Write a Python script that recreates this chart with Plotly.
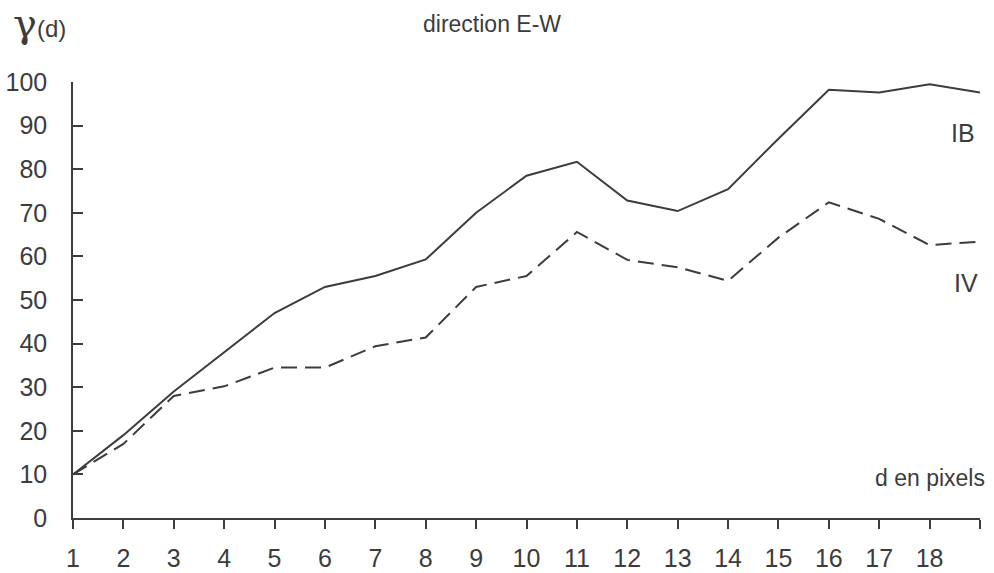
import plotly.graph_objects as go

# distances (pixels) and variogram values
d = list(range(1, 20))
ib = [10, 19, 29, 38, 47, 53, 55.5, 59.3, 70, 78.5, 81.7, 72.8, 70.4, 75.4, 87, 98.2, 97.6, 99.5, 97.6]
iv = [10, 17, 28, 30.2, 34.5, 34.5, 39.4, 41.4, 53, 55.5, 65.6, 59.2, 57.5, 54.4, 64.3, 72.4, 68.6, 62.6, 63.4]

x_ticks = list(range(1, 20))
x_labels = [str(v) for v in range(1, 19)] + [""]
y_ticks = list(range(0, 101, 10))

ink = "#3c3c3c"
font = "Liberation Sans, Arial, Helvetica, sans-serif"

fig = go.Figure()
fig.add_trace(go.Scatter(x=d, y=ib, mode="lines", line=dict(color=ink, width=2), name="IB"))
fig.add_trace(go.Scatter(x=d, y=iv, mode="lines", line=dict(color=ink, width=2, dash="16px,8px"), name="IV"))

fig.update_xaxes(
    range=[1, 19],
    tickmode="array",
    tickvals=x_ticks,
    ticktext=x_labels,
    showline=True,
    linecolor=ink,
    linewidth=1.5,
    ticks="outside",
    ticklen=9,
    tickwidth=1.5,
    tickcolor=ink,
    ticklabelstandoff=8,
    showgrid=False,
    zeroline=False,
    automargin=False,
    tickfont=dict(size=25, color=ink, family=font),
)
fig.update_yaxes(
    range=[0, 100],
    tickmode="array",
    tickvals=y_ticks,
    showline=True,
    linecolor=ink,
    linewidth=1.5,
    ticks="inside",
    ticklen=10,
    tickwidth=1.5,
    tickcolor=ink,
    ticklabelstandoff=19,
    showgrid=False,
    zeroline=False,
    automargin=False,
    tickfont=dict(size=25, color=ink, family=font),
)

fig.add_annotation(
    xref="paper", yref="paper", x=-0.068, y=1.135, xanchor="left", yanchor="middle",
    text="<span style='font-family:DejaVu Serif'>γ</span><span style='font-size:24px'>(d)</span>",
    showarrow=False,
    font=dict(size=40, color=ink, family=font),
)
fig.add_annotation(
    xref="paper", yref="paper", x=0.462, y=1.133, xanchor="center", yanchor="middle",
    text="direction E-W", showarrow=False, font=dict(size=23, color=ink, family=font),
)
fig.add_annotation(
    x=19, y=88.3, xanchor="right", yanchor="middle", xshift=-3,
    text="IB", showarrow=False, font=dict(size=25, color=ink, family=font),
)
fig.add_annotation(
    x=19, y=53.9, xanchor="right", yanchor="middle", xshift=0,
    text="IV", showarrow=False, font=dict(size=25, color=ink, family=font),
)
fig.add_annotation(
    xref="paper", yref="paper", x=1.008, y=0.092, xanchor="right", yanchor="middle",
    text="d en pixels", showarrow=False, font=dict(size=23, color=ink, family=font),
)

fig.update_layout(
    width=994,
    height=573,
    margin=dict(l=73, r=14, t=82, b=55),
    paper_bgcolor="white",
    plot_bgcolor="white",
    showlegend=False,
)

# the page body has a default 8px margin that would push the chart off-screen
fig.write_html(
    "out.html",
    config={"displayModeBar": False},
    post_script="document.body.style.margin='0';",
)
